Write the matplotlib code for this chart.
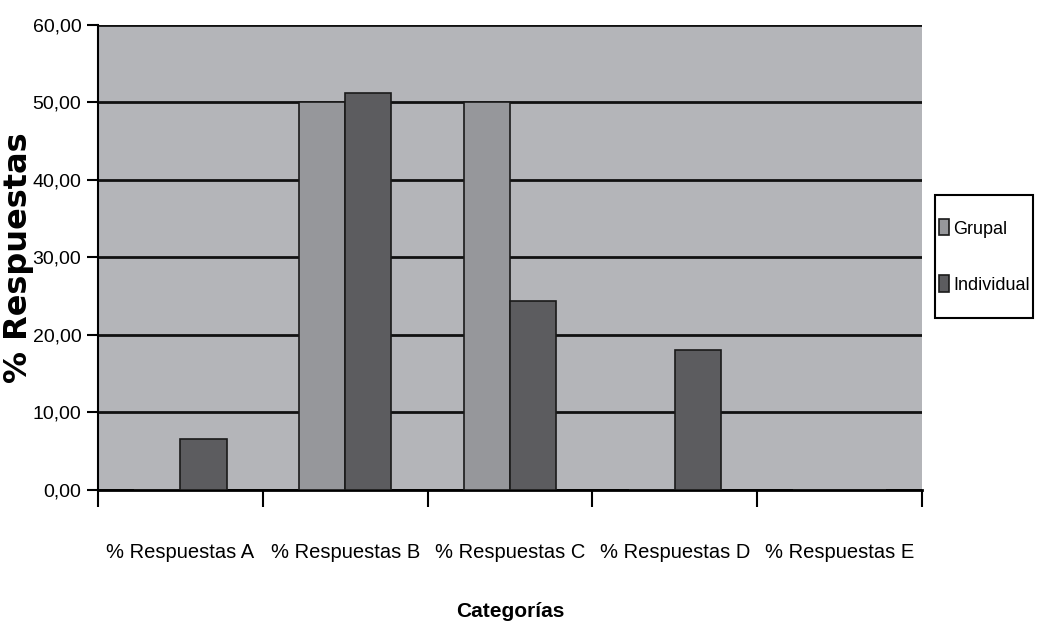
import matplotlib
matplotlib.use("Agg")
import matplotlib.pyplot as plt
from matplotlib.patches import Rectangle
import numpy as np

# data
categorias = ["% Respuestas A", "% Respuestas B", "% Respuestas C", "% Respuestas D", "% Respuestas E"]
grupal = [0, 50.0, 50.0, 0, 0]
individual = [6.6, 51.2, 24.4, 18.0, 0]
yticks = [0, 10, 20, 30, 40, 50, 60]

fuente = "Liberation Sans"

fig = plt.figure(figsize=(10.37, 6.38), dpi=100)
ax = fig.add_axes([0.0945, 0.232, 0.7945, 0.729])
ax.set_facecolor("#b4b5b9")

x = np.arange(len(categorias))
w = 0.28
ax.bar(x - w/2, grupal, w, color="#96979b", edgecolor="#1a1a1a", linewidth=1.2, label="Grupal", zorder=3)
ax.bar(x + w/2, individual, w, color="#5c5c5f", edgecolor="#1a1a1a", linewidth=1.2, label="Individual", zorder=3)

ax.set_xlim(-0.5, len(categorias) - 0.5)
ax.set_ylim(0, 60)
ax.set_yticks(yticks)
ax.set_yticklabels(["%d,00" % v for v in yticks], fontfamily=fuente, fontsize=14)
ax.yaxis.grid(True, color="#111111", linewidth=2, zorder=1)
ax.set_axisbelow(True)

ax.set_xticks(x)
ax.set_xticklabels(categorias, fontfamily=fuente, fontsize=14.5)
ax.set_xticks(np.arange(-0.5, len(categorias)), minor=True)
ax.tick_params(axis="x", which="major", length=0, pad=38)
ax.tick_params(axis="x", which="minor", length=12, width=1.5, direction="out")
ax.tick_params(axis="y", length=8, width=1.5, pad=4)

for s in ["top", "right"]:
    ax.spines[s].set_visible(False)
ax.spines["left"].set_linewidth(1.5)
ax.spines["bottom"].set_linewidth(2)

ax.set_xlabel("Categorías", fontfamily=fuente, fontsize=15, fontweight="bold", labelpad=29)
ax.set_ylabel("% Respuestas", fontfamily="DejaVu Sans", fontsize=23, fontweight="heavy", va="center")
ax.yaxis.set_label_coords(-0.097, 0.5)

# legend with its own frame
leg = fig.legend(*ax.get_legend_handles_labels(), loc="center", bbox_to_anchor=(0.949, 0.598),
                 prop={"family": fuente, "size": 13}, frameon=False, handlelength=0.55, handleheight=1.0,
                 handletextpad=0.25, labelspacing=2.1, borderpad=0)
fig.patches.append(Rectangle((0.9016, 0.5016), 0.0945, 0.1928, transform=fig.transFigure,
                             facecolor="white", edgecolor="black", linewidth=1.5, zorder=0))

fig.savefig("out.png", dpi=100)
